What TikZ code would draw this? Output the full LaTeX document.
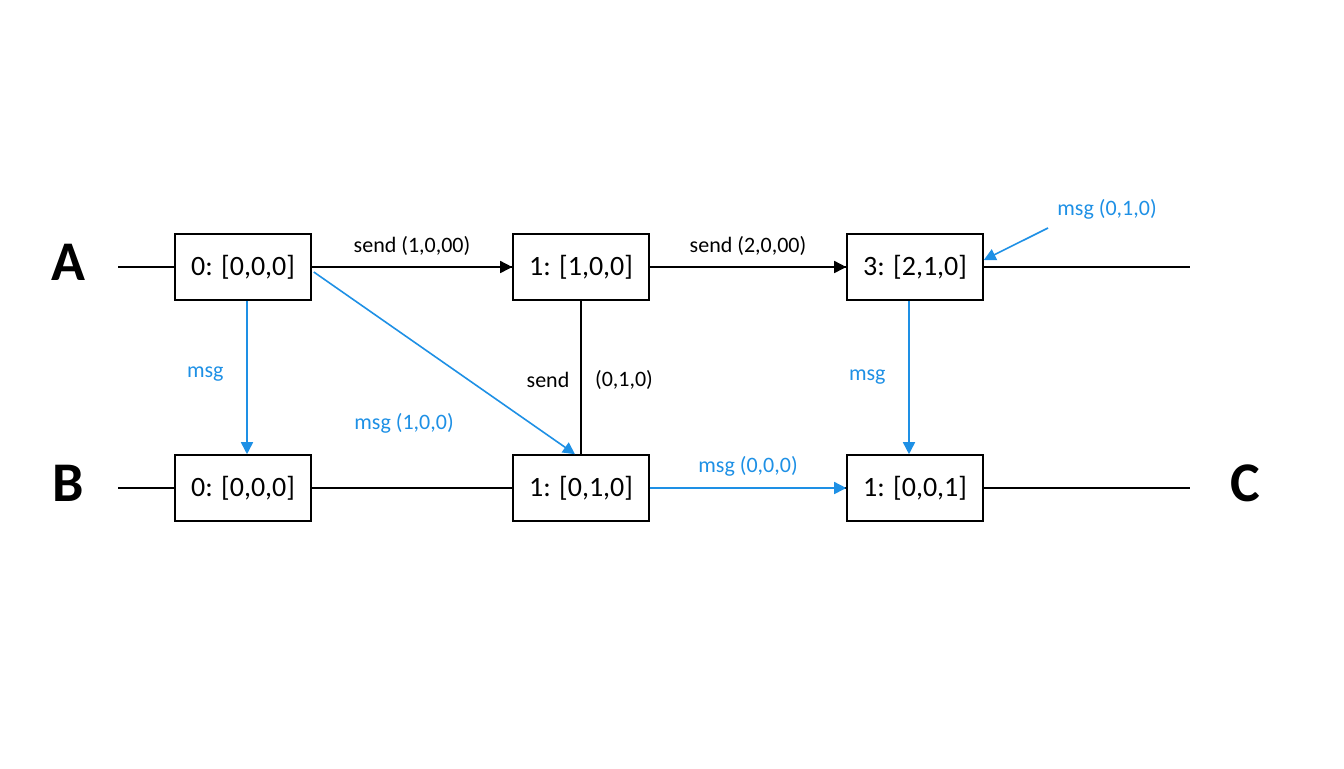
\documentclass[tikz,border=0pt]{standalone}
\usepackage{fontspec}
\setmainfont{Carlito}
\usepackage{xcolor}
\usetikzlibrary{arrows.meta}
\definecolor{msgblue}{RGB}{30,144,229}
\tikzset{
  stamp/.style={draw,thick,minimum width=68pt,minimum height=33pt,inner sep=0pt,font=\fontsize{14}{16}\selectfont,fill=white},
  proc/.style={font=\fontsize{28}{30}\selectfont\bfseries},
  lbl/.style={font=\fontsize{11}{13}\selectfont},
  msg/.style={msgblue,thick,-{Triangle[length=6pt,width=6pt]}},
  snd/.style={thick,-{Triangle[length=6pt,width=6pt]}}
}
\begin{document}
\begin{tikzpicture}[x=0.5pt,y=-0.5pt]
\useasboundingbox (0,0) rectangle (1344,768);
% Zeitlinien
\draw[thick] (118,267) -- (1190,267);
\draw[thick] (118,488) -- (1190,488);
\node[proc] (pa) at (68,262) {A};
\node[proc] (pb) at (68,483) {B};
\node[proc] (pc) at (1245,483) {C};
% Ereignisse
\node[stamp] (a0) at (243,267) {0: [0,0,0]};
\node[stamp] (a1) at (581,267) {1: [1,0,0]};
\node[stamp] (a2) at (915,267) {3: [2,1,0]};
\node[stamp] (b0) at (243,488) {0: [0,0,0]};
\node[stamp] (b1) at (581,488) {1: [0,1,0]};
\node[stamp] (b2) at (915,488) {1: [0,0,1]};
% Nachrichten
\draw[snd] (a0) -- node[lbl,above=2pt] {send (1,0,00)} (a1);
\draw[snd] (a1) -- node[lbl,above=2pt] {send (2,0,00)} (a2);
\draw[thick] (a1) -- (b1);
\node[lbl] (s1) at (548,380) {send};
\node[lbl] (s2) at (624,380) {(0,1,0)};
\draw[msg] ([xshift=2pt]a0.south) -- node[lbl,pos=0.48,left=8pt] {msg} ([xshift=2pt]b0.north);
\draw[msg] ([yshift=-2.5pt,xshift=1pt]a0.east) -- ([xshift=-3pt]b1.north);
\node[lbl,msgblue] (m1) at (404,423) {msg (1,0,0)};
\draw[msg] (b1) -- node[lbl,above=2pt] {msg (0,0,0)} (b2);
\draw[msg] ([xshift=-3pt]a2.south) -- node[lbl,pos=0.5,left=8pt] {msg} ([xshift=-3pt]b2.north);
\node[lbl,msgblue] (m2) at (1107,209) {msg (0,1,0)};
\coordinate (m2s) at (1048,228);
\draw[msg] (m2s) -- ([yshift=3.5pt]a2.east);
\end{tikzpicture}
\end{document}
